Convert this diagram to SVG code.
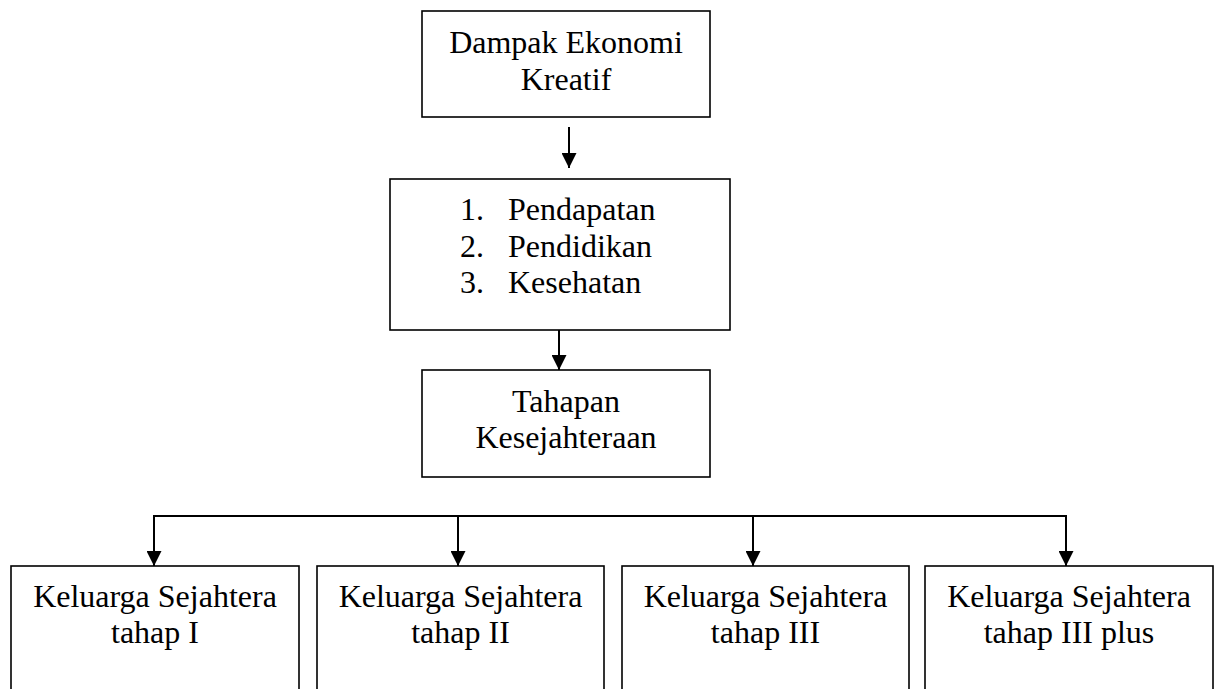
<svg xmlns="http://www.w3.org/2000/svg" width="1215" height="689" viewBox="0 0 1215 689">
<style>
.box{fill:#fff;stroke:#000;stroke-width:1.6}
.t{font-family:"Liberation Serif","Times New Roman",serif;font-size:32px;fill:#000}
.c{text-anchor:middle}
.ln{fill:none;stroke:#000;stroke-width:2}
</style>
<defs>
<marker id="ah" markerWidth="15" markerHeight="15" viewBox="0 0 15 15" refX="15" refY="7.5" orient="auto" markerUnits="userSpaceOnUse">
<path d="M0,0 L15,7.5 L0,15 Z" fill="#000"/>
</marker>
</defs>
<rect width="1215" height="689" fill="#fff"/>
<g id="connectors">
<line class="ln" x1="569" y1="127" x2="569" y2="168" marker-end="url(#ah)"/>
<line class="ln" x1="559" y1="330" x2="559" y2="370" marker-end="url(#ah)"/>
<polyline class="ln" points="154,566 154,516 1066,516 1066,566"/>
<line class="ln" x1="154" y1="516" x2="154" y2="566" marker-end="url(#ah)"/>
<line class="ln" x1="458" y1="516" x2="458" y2="566" marker-end="url(#ah)"/>
<line class="ln" x1="753" y1="516" x2="753" y2="566" marker-end="url(#ah)"/>
<line class="ln" x1="1066" y1="516" x2="1066" y2="566" marker-end="url(#ah)"/>
</g>
<g id="dampak">
<rect class="box" x="422" y="11" width="288" height="106"/>
<text class="t c" x="566" y="53">Dampak Ekonomi</text>
<text class="t c" x="566" y="90">Kreatif</text>
</g>
<g id="faktor">
<rect class="box" x="390" y="179" width="340" height="151"/>
<text class="t" x="460" y="220">1.</text><text class="t" x="508" y="220">Pendapatan</text>
<text class="t" x="460" y="257">2.</text><text class="t" x="508" y="257">Pendidikan</text>
<text class="t" x="460" y="293">3.</text><text class="t" x="508" y="293">Kesehatan</text>
</g>
<g id="tahapan">
<rect class="box" x="422" y="370" width="288" height="107"/>
<text class="t c" x="566" y="412">Tahapan</text>
<text class="t c" x="566" y="448">Kesejahteraan</text>
</g>
<g id="ks1">
<rect class="box" x="11" y="566" width="288" height="140"/>
<text class="t c" x="155" y="607">Keluarga Sejahtera</text>
<text class="t c" x="155" y="643">tahap I</text>
</g>
<g id="ks2">
<rect class="box" x="317" y="566" width="287" height="140"/>
<text class="t c" x="460.5" y="607">Keluarga Sejahtera</text>
<text class="t c" x="460.5" y="643">tahap II</text>
</g>
<g id="ks3">
<rect class="box" x="622" y="566" width="287" height="140"/>
<text class="t c" x="765.5" y="607">Keluarga Sejahtera</text>
<text class="t c" x="765.5" y="643">tahap III</text>
</g>
<g id="ks3plus">
<rect class="box" x="925" y="566" width="288" height="140"/>
<text class="t c" x="1069" y="607">Keluarga Sejahtera</text>
<text class="t c" x="1069" y="643">tahap III plus</text>
</g>
</svg>
